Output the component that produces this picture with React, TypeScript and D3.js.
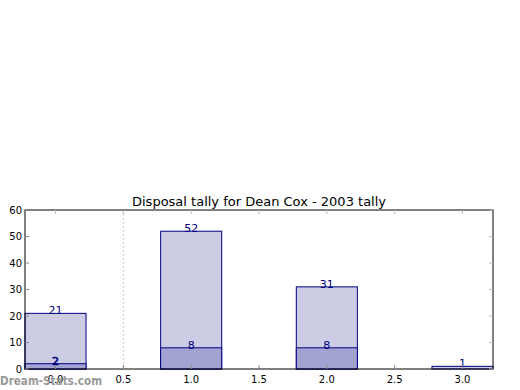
import React from "react";
import * as d3 from "d3";

const positions = [0, 1, 2, 3];
const totals = [21, 52, 31, 1];
const inner = [2, 8, 8, 0];
const xTicks = [0, 0.5, 1, 1.5, 2, 2.5, 3];
const yTicks = [0, 10, 20, 30, 40, 50, 60];
const title = "Disposal tally for Dean Cox - 2003 tally";

export default function App() {
  const W = 520, H = 390;
  const L = 25, R = 493, T = 210, B = 369;
  const x = d3.scaleLinear().domain([-0.225, 3.225]).range([L, R]);
  const y = d3.scaleLinear().domain([0, 60]).range([B, T]);
  const bw = 0.45;
  const font = "DejaVu Sans, sans-serif";
  return (
    <svg width={W} height={H} style={{ position: "absolute", left: 0, top: 0 }}>
      <rect x={0} y={0} width={W} height={H} fill="#fff" />
      <line x1={x(0.5)} x2={x(0.5)} y1={T} y2={B} stroke="#bbb" strokeDasharray="1.5,2.5" />
      {positions.map((p, i) => (
        <g key={i}>
          <rect x={x(p - bw / 2)} y={y(totals[i])} width={x(bw) - x(0)} height={B - y(totals[i])}
            fill="#ccccE5" stroke="#000080" strokeWidth={1} />
          {inner[i] > 0 && (
            <rect x={x(p - bw / 2)} y={y(inner[i])} width={x(bw) - x(0)} height={B - y(inner[i])}
              fill="#a3a3d1" stroke="#000080" strokeWidth={1} />
          )}
        </g>
      ))}
      {positions.map((p, i) => (
        <g key={"l" + i} fontFamily={font} fontSize={11} fill="#000080" textAnchor="middle">
          <text x={x(p)} y={y(totals[i]) + 1}>{totals[i]}</text>
          {inner[i] > 0 && <text x={x(p)} y={y(inner[i]) + 1} stroke={i === 0 ? "#000080" : "none"} strokeWidth={0.6}>{inner[i]}</text>}
        </g>
      ))}
      <rect x={L} y={T} width={R - L} height={B - T} fill="none" stroke="#000" strokeWidth={1} />
      {xTicks.map((t) => (
        <g key={"x" + t}>
          <line x1={x(t)} x2={x(t)} y1={B} y2={B - 4} stroke="#888" />
          <line x1={x(t)} x2={x(t)} y1={T} y2={T + 4} stroke="#bbb" />
          <text x={x(t)} y={383} textAnchor="middle" fontFamily={font} fontSize={10} fill="#000">{t.toFixed(1)}</text>
        </g>
      ))}
      {yTicks.map((t) => (
        <g key={"y" + t}>
          <line x1={L} x2={L + 4} y1={y(t)} y2={y(t)} stroke="#888" />
          <line x1={R} x2={R - 4} y1={y(t)} y2={y(t)} stroke="#bbb" />
          <text x={L - 3} y={y(t) + 3.5} textAnchor="end" fontFamily={font} fontSize={10} fill="#000">{t}</text>
        </g>
      ))}
      <text x={(L + R) / 2} y={206} textAnchor="middle" fontFamily={font} fontSize={13} fill="#000">{title}</text>
      <text x={0} y={385} fontFamily={font} fontSize={13} fontWeight="bold" fill="#999" textLength={102} lengthAdjust="spacingAndGlyphs">Dream-Stats.com</text>
    </svg>
  );
}
